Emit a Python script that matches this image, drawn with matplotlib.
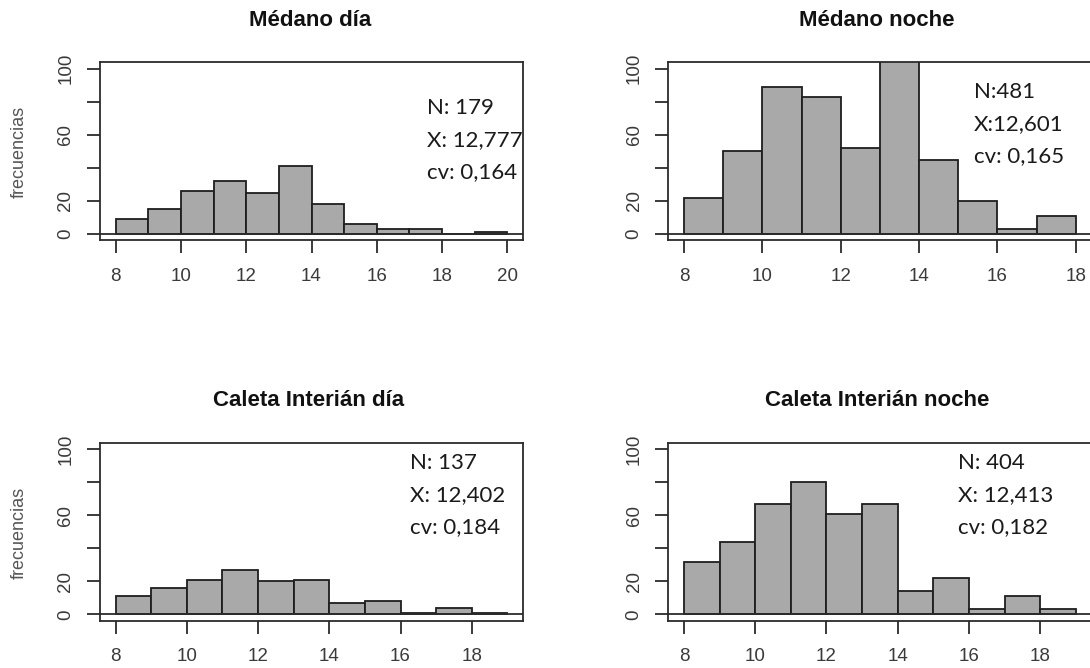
import matplotlib.pyplot as plt
import numpy as np

plt.rcParams['font.family'] = ['Liberation Sans', 'DejaVu Sans']

# histogram counts per 1-unit bin
medano_dia_breaks = np.arange(8, 21)
medano_dia_counts = [9, 15, 26, 32, 25, 41, 18, 6, 3, 3, 0, 1]

medano_noche_breaks = np.arange(8, 19)
medano_noche_counts = [22, 50, 89, 83, 52, 106, 45, 20, 3, 11]

caleta_dia_breaks = np.arange(8, 20)
caleta_dia_counts = [11, 16, 21, 27, 20, 21, 7, 8, 1, 4, 1]

caleta_noche_breaks = np.arange(8, 20)
caleta_noche_counts = [32, 44, 67, 80, 61, 67, 14, 22, 3, 11, 3]

titles = ['Médano día', 'Médano noche', 'Caleta Interián día', 'Caleta Interián noche']
stats = [['N: 179', 'X: 12,777', 'cv: 0,164'],
         ['N:481', 'X:12,601', 'cv: 0,165'],
         ['N: 137', 'X: 12,402', 'cv: 0,184'],
         ['N: 404', 'X: 12,413', 'cv: 0,182']]
yticks = [0, 20, 40, 60, 80, 100]
ytick_labels = ['0', '20', '', '60', '', '100']

W, H = 1090, 668
fig = plt.figure(figsize=(W / 100, H / 100), dpi=100)

# panel boxes in pixels: left, top, width, height
boxes = [(100, 62, 423, 178.5), (668.4, 62, 423, 178.5),
         (100, 442.5, 423, 178.5), (668.4, 442.5, 423, 178.5)]
title_xy = [(310, 20), (877, 20), (309, 401), (877, 401)]
stat_xy = [(427, 108), (974, 92), (410, 463), (958, 463)]
ylab_xy = [(19, 152), None, (19, 533), None]

data = [(medano_dia_breaks, medano_dia_counts),
        (medano_noche_breaks, medano_noche_counts),
        (caleta_dia_breaks, caleta_dia_counts),
        (caleta_noche_breaks, caleta_noche_counts)]

axis_col = '#2b2b2b'
text_col = '#3a3a3a'

for i, (breaks, counts) in enumerate(data):
    l, t, w, h = boxes[i]
    ax = fig.add_axes([l / W, 1 - (t + h) / H, w / W, h / H])
    ax.bar(breaks[:-1], counts, width=1, align='edge', color='#a9a9a9',
           edgecolor='#1e1e1e', linewidth=1.3, zorder=2)
    ax.axhline(0, color=axis_col, linewidth=1.3, zorder=3)

    lo, hi = breaks[0], breaks[-1]
    pad = 0.04 * (hi - lo)
    ax.set_xlim(lo - pad, hi + pad)
    ax.set_ylim(-4, 104)
    ax.set_xticks(np.arange(8, hi + 1, 2))
    ax.set_yticks(yticks)
    ax.set_yticklabels(ytick_labels, rotation=90, va='center')

    for s in ax.spines.values():
        s.set_color(axis_col)
        s.set_linewidth(1.3)
    ax.tick_params(axis='both', direction='out', length=9.5, width=1.3,
                   color=axis_col, labelcolor=text_col, labelsize=13.5)
    ax.tick_params(axis='x', pad=10)
    ax.tick_params(axis='y', pad=9)

    tx, ty = title_xy[i]
    fig.text(tx / W, 1 - ty / H, titles[i], ha='center', va='center',
             fontsize=16, fontweight='bold', color='#111111')

    sx, sy = stat_xy[i]
    for k, line in enumerate(stats[i]):
        fig.text(sx / W, 1 - (sy + 32 * k) / H, line, ha='left', va='center',
                 fontsize=16, family=['Lato', 'DejaVu Sans'], color='#1a1a1a')

    if ylab_xy[i] is not None:
        yx, yy = ylab_xy[i]
        fig.text(yx / W, 1 - yy / H, 'frecuencias', rotation=90, ha='center',
                 va='center', fontsize=13, color='#555555')

fig.savefig('out.png', dpi=100)
plt.close(fig)
